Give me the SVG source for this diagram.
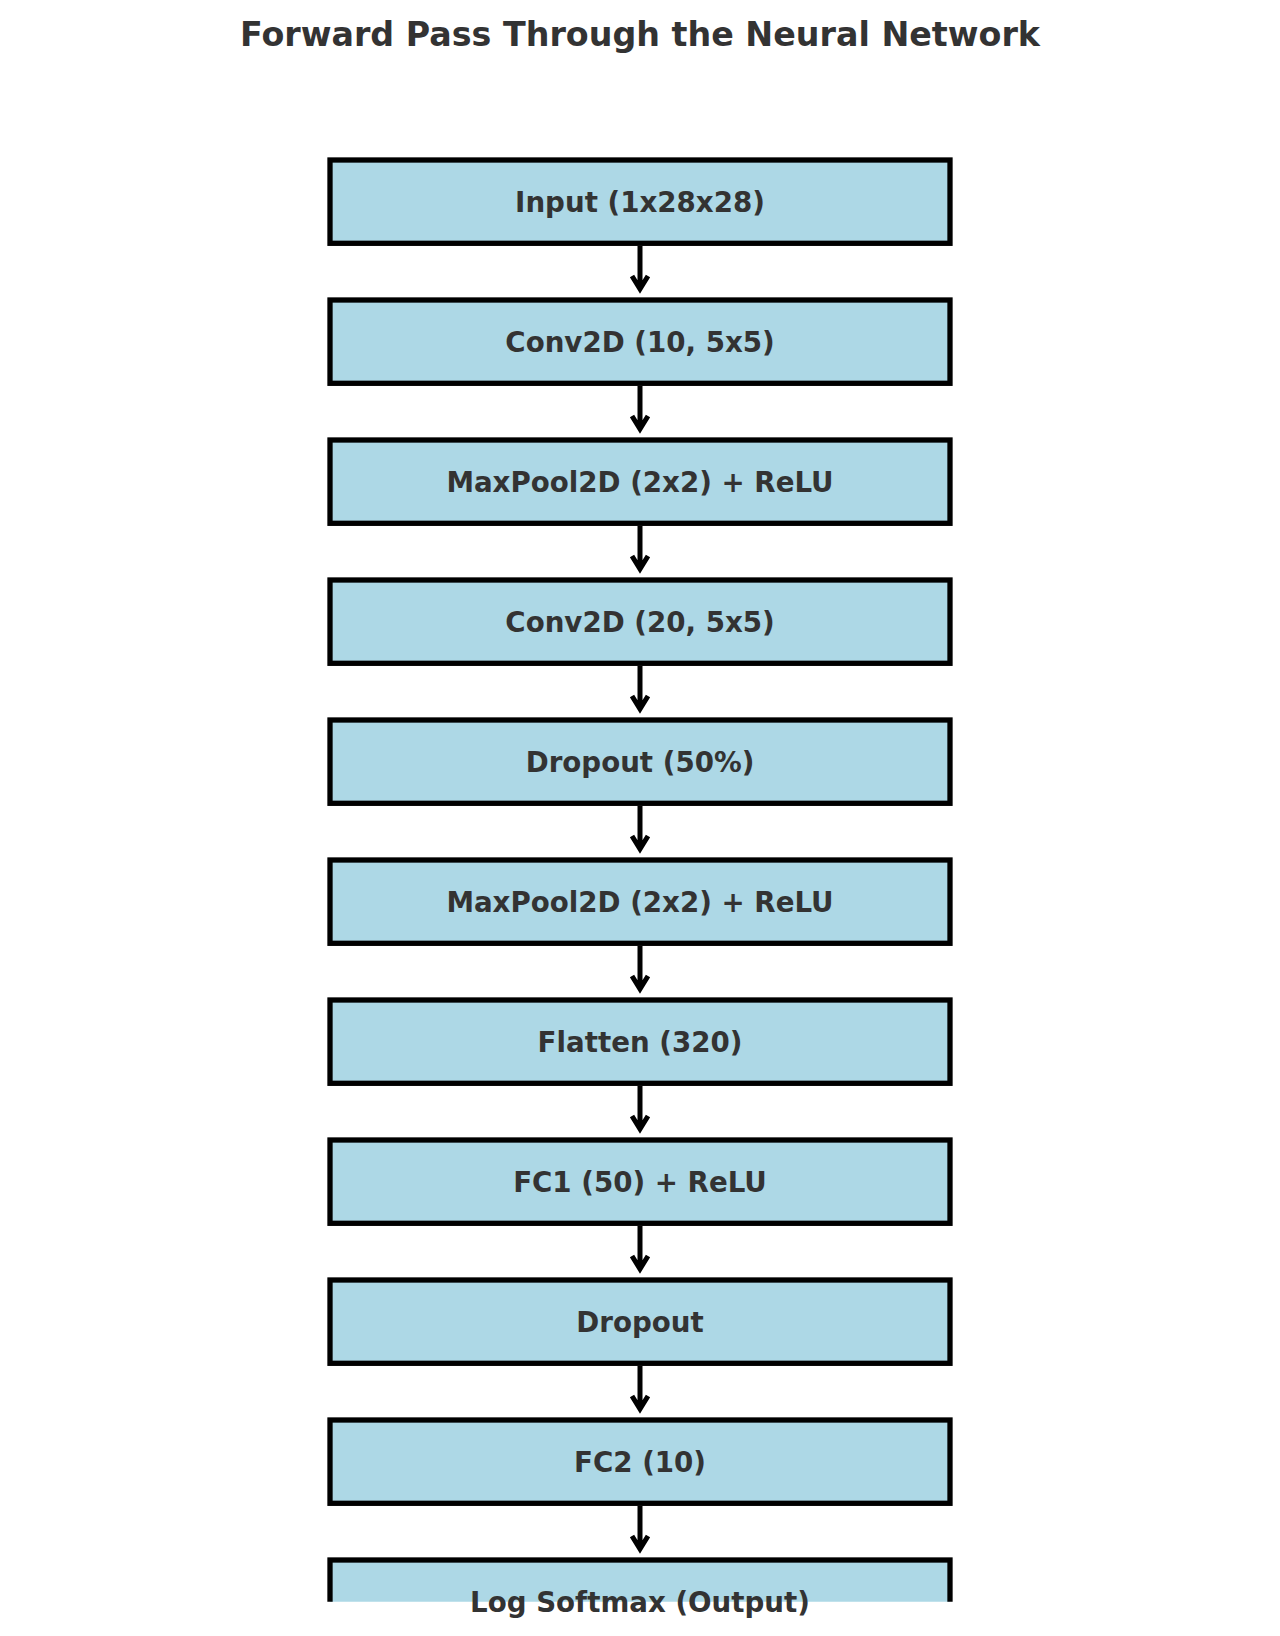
<svg xmlns="http://www.w3.org/2000/svg" width="1280" height="1636" viewBox="0 0 1280 1636">
<style>
.box{fill:#ADD8E6;stroke:#000;stroke-width:5.3}
.lbl{font-family:"DejaVu Sans",sans-serif;font-weight:bold;font-size:27.7px;fill:#333;text-anchor:middle}
.title{font-family:"DejaVu Sans",sans-serif;font-weight:bold;font-size:33.3px;fill:#333;text-anchor:middle}
.arr{fill:none;stroke:#000;stroke-width:5}
</style>
<defs>
<clipPath id="ax"><rect x="0" y="0" width="1280" height="1601.7"/></clipPath>
</defs>
<rect width="1280" height="1636" fill="#fff"/>
<text class="title" x="640" y="46">Forward Pass Through the Neural Network</text>
<g id="connectors">
<path class="arr" d="M640,246 V289 M632,276 L640,289 L648,276"/>
<path class="arr" d="M640,386 V429 M632,416 L640,429 L648,416"/>
<path class="arr" d="M640,526 V569 M632,556 L640,569 L648,556"/>
<path class="arr" d="M640,666 V709 M632,696 L640,709 L648,696"/>
<path class="arr" d="M640,806 V849 M632,836 L640,849 L648,836"/>
<path class="arr" d="M640,946 V989 M632,976 L640,989 L648,976"/>
<path class="arr" d="M640,1086 V1129 M632,1116 L640,1129 L648,1116"/>
<path class="arr" d="M640,1226 V1269 M632,1256 L640,1269 L648,1256"/>
<path class="arr" d="M640,1366 V1409 M632,1396 L640,1409 L648,1396"/>
<path class="arr" d="M640,1506 V1549 M632,1536 L640,1549 L648,1536"/>
</g>
<g id="n1"><rect class="box" x="330" y="160" width="620" height="83.3"/><text class="lbl" x="640" y="211.7">Input (1x28x28)</text></g>
<g id="n2"><rect class="box" x="330" y="300" width="620" height="83.3"/><text class="lbl" x="640" y="351.7">Conv2D (10, 5x5)</text></g>
<g id="n3"><rect class="box" x="330" y="440" width="620" height="83.3"/><text class="lbl" x="640" y="491.7">MaxPool2D (2x2) + ReLU</text></g>
<g id="n4"><rect class="box" x="330" y="580" width="620" height="83.3"/><text class="lbl" x="640" y="631.7">Conv2D (20, 5x5)</text></g>
<g id="n5"><rect class="box" x="330" y="720" width="620" height="83.3"/><text class="lbl" x="640" y="771.7">Dropout (50%)</text></g>
<g id="n6"><rect class="box" x="330" y="860" width="620" height="83.3"/><text class="lbl" x="640" y="911.7">MaxPool2D (2x2) + ReLU</text></g>
<g id="n7"><rect class="box" x="330" y="1000" width="620" height="83.3"/><text class="lbl" x="640" y="1051.7">Flatten (320)</text></g>
<g id="n8"><rect class="box" x="330" y="1140" width="620" height="83.3"/><text class="lbl" x="640" y="1191.7">FC1 (50) + ReLU</text></g>
<g id="n9"><rect class="box" x="330" y="1280" width="620" height="83.3"/><text class="lbl" x="640" y="1331.7">Dropout</text></g>
<g id="n10"><rect class="box" x="330" y="1420" width="620" height="83.3"/><text class="lbl" x="640" y="1471.7">FC2 (10)</text></g>
<g id="n11"><rect class="box" x="330" y="1560" width="620" height="83.3" clip-path="url(#ax)"/><text class="lbl" x="640" y="1611.7">Log Softmax (Output)</text></g>
</svg>
